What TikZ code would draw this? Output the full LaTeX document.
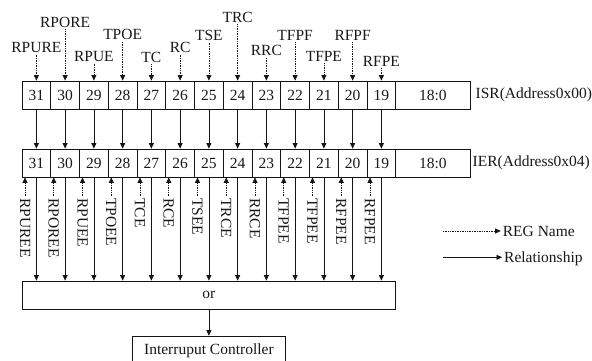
\documentclass[tikz,border=0pt]{standalone}
\usepackage{fontspec}
\setmainfont{Liberation Serif}
\usetikzlibrary{arrows.meta}

\definecolor{regLine}{RGB}{20,20,20}
\definecolor{regText}{RGB}{25,25,25}

\begin{document}
\begin{tikzpicture}[x=1pt,y=1pt,
      every node/.style={font=\fontsize{15.5}{17.5}\selectfont, text=regText},
      bitcell/.style={draw=regLine, line width=.8pt, inner sep=0pt,
        minimum width=28.75pt, minimum height=28pt},
      regbox/.style={draw=regLine, line width=.8pt, inner sep=0pt},
      flagname/.style={inner sep=1.5pt, anchor=base},
      enname/.style={inner sep=2pt, rotate=-90, anchor=west},
      regkey/.style={draw=regLine, line width=.7pt, densely dotted,
        -{Triangle[length=5.5pt,width=5pt]}},
      relation/.style={draw=regLine, line width=.7pt,
        -{Triangle[length=5.5pt,width=5pt]}}]
      \useasboundingbox (0,0) rectangle (592,361);

      \fill[white] (0,0) rectangle (592,361);

      \foreach \b [count=\i from 0] in {31,30,...,19}{
        \node[bitcell] (isr\b) at ({36.375+28.75*\i},266) {\b};
        \node[bitcell] (ier\b) at ({36.375+28.75*\i},198) {\b};}
      \node[bitcell, minimum width=74.25pt] (isrlow) at (432.875,266) {18:0};
      \node[bitcell, minimum width=74.25pt] (ierlow) at (432.875,198) {18:0};
      \node[anchor=west, inner sep=0pt] (isrname) at (475.5,266) {ISR(Address0x00)};
      \node[anchor=west, inner sep=0pt] (iername) at (472.5,198) {IER(Address0x04)};

      \foreach \b/\name/\y in {31/RPURE/308.3, 30/RPORE/333.7, 29/RPUE/299.3,
          28/TPOE/321, 27/TC/298.7, 26/RC/308.3, 25/TSE/320.3, 24/TRC/338.7,
          23/RRC/305, 22/TFPF/320.3, 21/TFPE/299.3, 20/RFPF/320.3,
          19/RFPE/294.3}{
        \node[flagname] (n\b) at (isr\b |- 0,\y) {\name};
        \draw[regkey] (n\b.south) -- (isr\b.north);
        \draw[relation] (isr\b) -- (ier\b);}

      \node[regbox, minimum width=373.75pt, minimum height=28pt] (orgate)
        at (208.875,66) {or};

      \foreach \b/\name [count=\i from 0] in {31/RPUREE, 30/RPOREE, 29/RPUEE,
          28/TPOEE, 27/TCE, 26/RCE, 25/TSEE, 24/TRCE, 23/RRCE, 22/TFPEE,
          21/TFPEE, 20/RFPEE, 19/RFPEE}{
        \node[enname] (e\b) at ({25+28.75*\i},165) {\name};
        \draw[regkey] (e\b.west) -- (e\b.west |- ier\b.south);
        \draw[relation] (ier\b) -- (ier\b |- orgate.north);}

      \node[regbox, minimum width=152.3pt, minimum height=30pt, anchor=north]
        (intc) at (208.875,25.3) {Interruput Controller};
      \draw[relation] (orgate) -- (intc);

      \coordinate (regstart) at (443,130);
      \node[anchor=west, inner sep=2pt] (regkeytext) at (500.7,130) {REG Name};
      \draw[regkey] (regstart) -- (regkeytext.west);
      \coordinate (relstart) at (443,103.7);
      \node[anchor=base west, inner sep=2pt] (relkeytext) at (502,98.7)
        {Relationship};
      \draw[relation] (relstart) -- (relstart -| relkeytext.west);
    \end{tikzpicture}
\end{document}
